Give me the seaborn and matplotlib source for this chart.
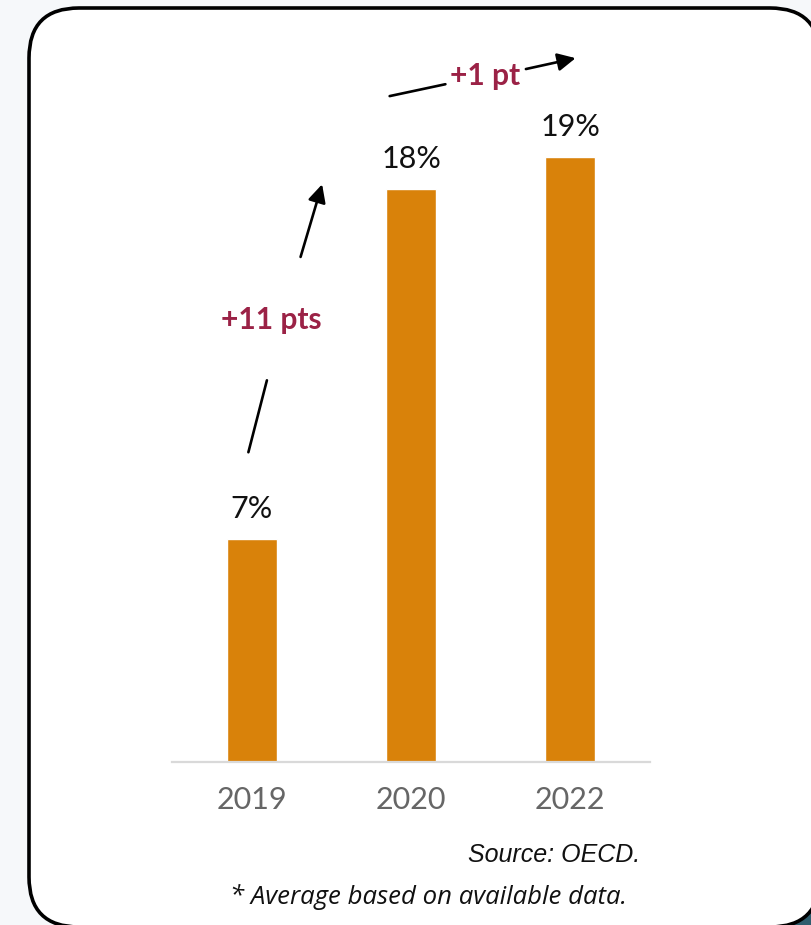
import matplotlib
matplotlib.use("Agg")
import matplotlib.pyplot as plt
from matplotlib.patches import FancyBboxPatch, Rectangle
import seaborn as sns
import pandas as pd

# Share by year (percent)
years = ["2019", "2020", "2022"]
shares = [7, 18, 19]
value_labels = ["7%", "18%", "19%"]
change_labels = ["+11 pts", "+1 pt"]
source_note = "Source: OECD."
footnote = "* Average based on available data."

BAR_COLOR = "#d9820a"
ACCENT = "#9b2246"
W, H = 811, 925

sns.set_theme(style="white")
plt.rcParams["font.family"] = ["Lato", "DejaVu Sans"]

fig = plt.figure(figsize=(W / 100, H / 100), dpi=100)
fig.patch.set_facecolor("#f6f8fa")

# Background layer in pixel coordinates: rounded white card
bg = fig.add_axes([0, 0, 1, 1])
bg.set_xlim(0, W)
bg.set_ylim(H, 0)
bg.axis("off")
bg.add_patch(Rectangle((780, 900), 50, 30, facecolor="#2f5d6e", edgecolor="none", zorder=0))
bg.add_patch(FancyBboxPatch((29, 8), 791, 919,
                            boxstyle="round,pad=0,rounding_size=50",
                            facecolor="white", edgecolor="black",
                            linewidth=2.6, zorder=1))

# Chart axes
ax = fig.add_axes([172 / W, (H - 762) / H, 478 / W, 700 / H])
ax.patch.set_alpha(0)
df = pd.DataFrame({"year": years, "share": shares})
sns.barplot(data=df, x="year", y="share", order=years, color=BAR_COLOR,
            saturation=1, width=0.314, ax=ax)
ax.set_xlim(-0.5, 2.5)
ax.set_ylim(0, 22)
ax.set_xlabel("")
ax.set_ylabel("")
ax.set_yticks([])
for s in ["top", "right", "left"]:
    ax.spines[s].set_visible(False)
ax.spines["bottom"].set_color("#d9d9d9")
ax.spines["bottom"].set_linewidth(1.6)
ax.tick_params(axis="x", length=0, pad=17, labelsize=22, labelcolor="#666666")

# Value labels above the bars
for i, (v, lab) in enumerate(zip(shares, value_labels)):
    ax.annotate(lab, (i, v), xytext=(0, 12), textcoords="offset points",
                ha="center", va="bottom", fontsize=22, color="#111111")

# Change annotations: arrow split by its label
arrow_kw = dict(arrowstyle="-|>,head_length=0.9,head_width=0.45", color="black", lw=1.9)
line_kw = dict(arrowstyle="-", color="black", lw=1.9)

ax.annotate("", xy=(0.10, 12.08), xytext=(-0.025, 9.65),
            arrowprops=line_kw, annotation_clip=False)
ax.annotate("", xy=(0.447, 18.24), xytext=(0.302, 15.79),
            arrowprops=arrow_kw, annotation_clip=False)
ax.text(0.126, 13.9, change_labels[0], ha="center", va="center",
        fontsize=21.5, fontweight="bold", color=ACCENT)

ax.annotate("", xy=(1.233, 21.32), xytext=(0.849, 20.91),
            arrowprops=line_kw, annotation_clip=False)
ax.annotate("", xy=(2.05, 22.14), xytext=(1.704, 21.76),
            arrowprops=arrow_kw, annotation_clip=False)
ax.text(1.465, 21.57, change_labels[1], ha="center", va="center",
        fontsize=21.5, fontweight="bold", color=ACCENT, clip_on=False)

# Notes
bg.text(640, 855, source_note, ha="right", va="center", fontsize=18,
        style="italic", color="#111111", family=["Liberation Sans", "DejaVu Sans"])
bg.text(627, 897, footnote, ha="right", va="center", fontsize=18.5,
        style="italic", color="#111111", family=["Open Sans", "DejaVu Sans"])

fig.savefig("out.png", dpi=100)
